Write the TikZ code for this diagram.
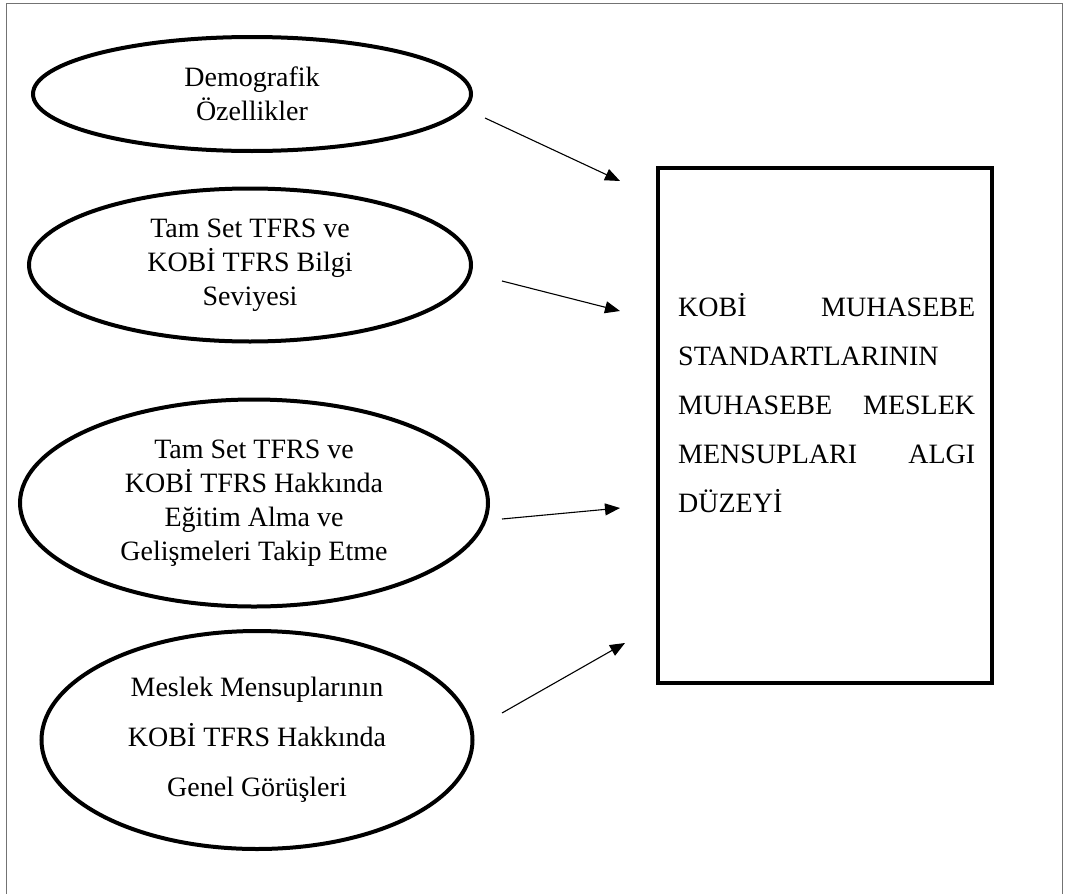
\documentclass[tikz,border=0pt]{standalone}
\usepackage{fontspec}
\setmainfont{Liberation Serif}
\newfontfamily\tnr{Liberation Serif}
\usetikzlibrary{arrows.meta,shapes.geometric,positioning}

\begin{document}
\begin{tikzpicture}[x=1pt,y=-1pt]
    \tikzstyle{faktor} = [shape=ellipse, draw=black, line width=4pt, inner sep=0pt, align=center, font=\tnr\fontsize{28}{34}\selectfont];
    \tikzstyle{ok} = [-{Triangle[length=15pt,width=12pt]}, line width=1.1pt];

    \useasboundingbox (0,0) rectangle (1068,894);
    \draw[black!55, line width=1pt] (6,894) -- (6,3) -- (1062,3) -- (1062,894);

    \node[faktor, minimum width=438pt, minimum height=114pt](DEMO) at (252,94) {Demografik\\Özellikler};
    \node[faktor, minimum width=442pt, minimum height=153pt](BILGI) at (250,265) {Tam Set TFRS ve\\KOBİ TFRS Bilgi\\Seviyesi};
    \node[faktor, minimum width=468pt, minimum height=207pt](EGITIM) at (254,503) {Tam Set TFRS ve\\KOBİ TFRS Hakkında\\Eğitim Alma ve\\Gelişmeleri Takip Etme};
    \node[faktor, minimum width=431pt, minimum height=218pt, font=\tnr\fontsize{28}{50}\selectfont](GORUS) at (257,740) {Meslek Mensuplarının\\KOBİ TFRS Hakkında\\Genel Görüşleri};

    \node[draw=black, line width=4pt, minimum width=334pt, minimum height=515pt](ALGI) at (825,425.5) {};
    \node[anchor=north west, inner sep=0pt, text width=297pt, align=left, font=\tnr\fontsize{28}{49}\selectfont](METIN) at (678,293)
        {KOBİ\hfill MUHASEBE\\STANDARTLARININ\\MUHASEBE\hfill MESLEK\\MENSUPLARI\hfill ALGI\\DÜZEYİ};

    \coordinate (a1) at (485,118);
    \coordinate (b1) at (620,181);
    \coordinate (a2) at (502,281);
    \coordinate (b2) at (620,311);
    \coordinate (a3) at (502,519);
    \coordinate (b3) at (620,508);
    \coordinate (a4) at (502,713);
    \coordinate (b4) at (625,643);

    \foreach \i in {1,...,4}
        \draw[ok] (a\i) -- (b\i);
\end{tikzpicture}
\end{document}
